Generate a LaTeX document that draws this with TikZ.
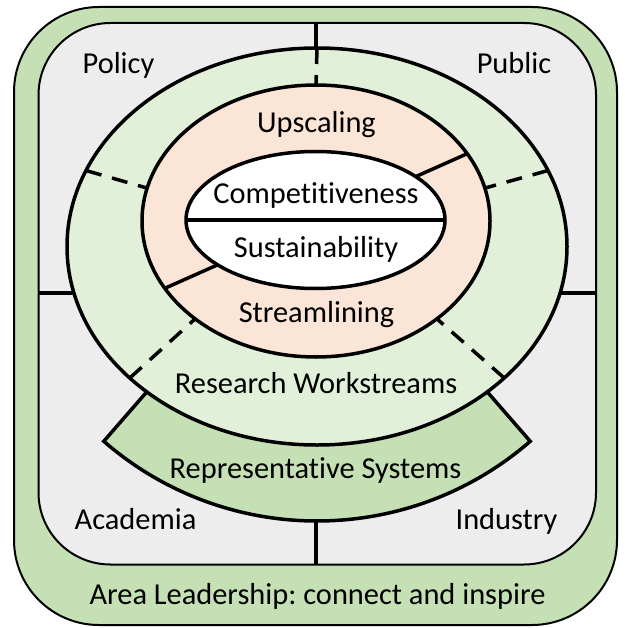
\documentclass[tikz,border=0pt]{standalone}
\usepackage{fontspec}
\setmainfont{Carlito}[Ligatures={NoCommon}]
\frenchspacing
\usetikzlibrary{calc}
\definecolor{leadgreen}{HTML}{C5E0B4}
\definecolor{ringgreen}{HTML}{E2F0D9}
\definecolor{fieldgray}{HTML}{EDEDED}
\definecolor{coreorange}{HTML}{FBE5D6}
\begin{document}
\begin{tikzpicture}[x=1pt,y=-1pt,
  thickline/.style={line width=3.5pt},
  frameline/.style={line width=2pt},
  dashline/.style={line width=3.5pt, dash pattern=on 16pt off 11pt},
  lbl/.style={font=\fontsize{30.4pt}{36pt}\selectfont\frenchspacing, anchor=base, inner sep=0pt}]
\useasboundingbox (0,0) rectangle (624,628);

% outer leadership band and the four stakeholder fields
\draw[frameline, fill=leadgreen, rounded corners=85pt] (14,7) rectangle (617,625);
\draw[frameline, fill=fieldgray, rounded corners=72pt] (38.5,23) rectangle (596,564.5);

% quadrant dividers
\coordinate (qtop) at (316,23);
\coordinate (qbottom) at (316,564.5);
\coordinate (qleft) at (38.5,293);
\coordinate (qright) at (596,293);
\draw[thickline] (qtop) -- (qbottom);
\draw[thickline] (qleft) -- (qright);

% representative systems band (annular sector)
\coordinate (sc) at (317,196);
\draw[thickline, fill=leadgreen]
  ($(sc)+(49:200)$) -- ($(sc)+(49:325)$)
  arc[start angle=49, end angle=131, radius=325]
  -- ($(sc)+(131:200)$)
  arc[start angle=131, end angle=49, radius=200] -- cycle;

% research workstreams ring
\coordinate (gc) at (317,246.5);
\coordinate (oc) at (316,221);
\draw[thickline, fill=ringgreen] (gc) ellipse [x radius=250, y radius=198.5];

% dashed dividers across the ring
\foreach \ga/\oa in {202.5/194, 337.5/346, 138.5/134, 41.5/46, 270/270}
  \draw[dashline] ($(gc)+({250*cos(\ga)},{198.5*sin(\ga)})$)
                -- ($(oc)+({174*cos(\oa)},{136*sin(\oa)})$);

% upscaling / streamlining ring
\draw[thickline, fill=coreorange] (oc) ellipse [x radius=174, y radius=136];
\coordinate (ur) at ($(oc)+(336:165.5)$);
\coordinate (ll) at ($(oc)+(156:165.5)$);
\draw[thickline] (oc) -- (ur);
\draw[thickline] (oc) -- (ll);

% core goals
\coordinate (wc) at (315.5,220);
\draw[thickline, fill=white] (wc) ellipse [x radius=129.5, y radius=68.5];
\draw[thickline] ($(wc)+(-129.5,0)$) -- ($(wc)+(129.5,0)$);

% labels
\node[lbl] (policy) at (118.5,74) {Policy};
\node[lbl] (public) at (514,74) {Public};
\node[lbl] (upscaling) at (316.5,133) {Upscaling};
\node[lbl] (compet) at (316,204) {Competitiveness};
\node[lbl] (sustain) at (316,257) {Sustainability};
\node[lbl] (stream) at (316.5,322) {Streamlining};
\node[lbl] (research) at (316,393) {Research Workstreams};
\node[lbl] (repsys) at (315.5,478) {Representative Systems};
\node[lbl] (academia) at (135.5,529) {Academia};
\node[lbl] (industry) at (506.5,529) {Industry};
\node[lbl] (leader) at (317.5,604) {Area Leadership: connect and inspire};
\end{tikzpicture}
\end{document}
